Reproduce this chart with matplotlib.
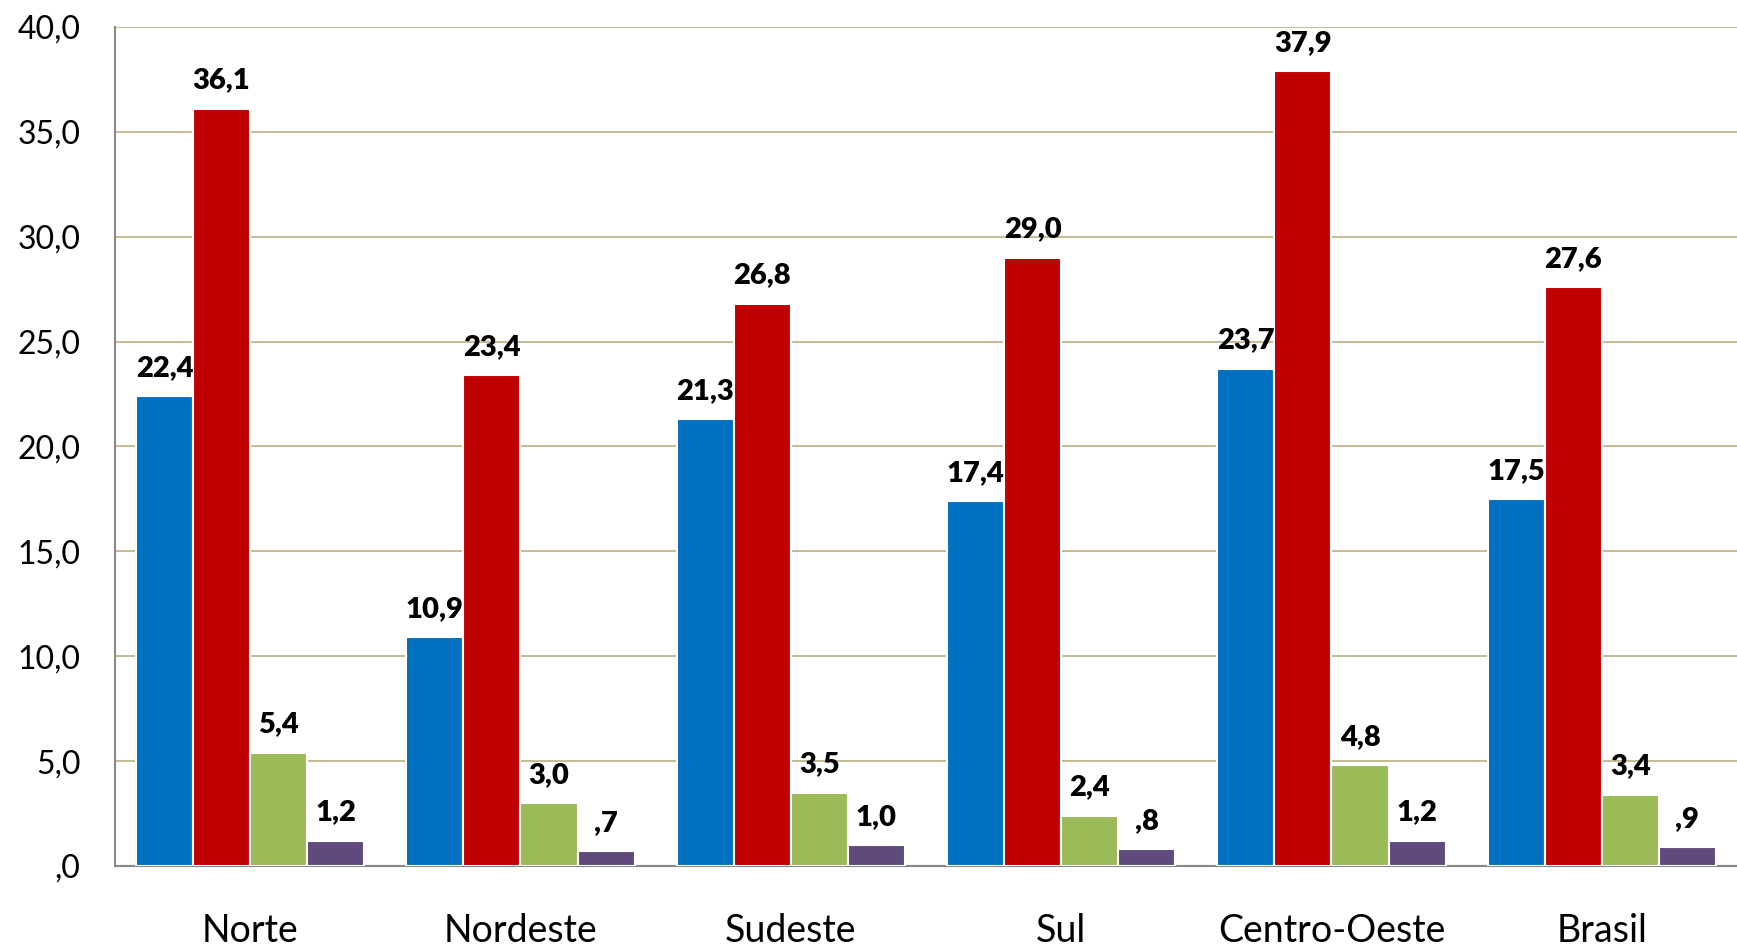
import numpy as np
import matplotlib.pyplot as plt

### Données
regioes = ["Norte", "Nordeste", "Sudeste", "Sul", "Centro-Oeste", "Brasil"]
serie1 = [22.4, 10.9, 21.3, 17.4, 23.7, 17.5]
serie2 = [36.1, 23.4, 26.8, 29.0, 37.9, 27.6]
serie3 = [5.4, 3.0, 3.5, 2.4, 4.8, 3.4]
serie4 = [1.2, 0.7, 1.0, 0.8, 1.2, 0.9]
cores = ["#0070C0", "#C00000", "#9BBB59", "#604A7B"]
yticks = np.arange(0, 45, 5)


def fmt(v):
    s = f"{v:.1f}".replace(".", ",")
    if s.startswith("0,"):
        s = s[1:]
    return s


plt.rcParams['font.family'] = ['Lato', 'DejaVu Sans']

fig = plt.figure(figsize=(17.37, 9.51), dpi=100)
ax = fig.add_axes([0.0662, 0.0894, 0.9338, 0.8822])

x = np.arange(len(regioes))
w = 0.211
series = [serie1, serie2, serie3, serie4]
for i, (vals, c) in enumerate(zip(series, cores)):
    pos = x + (i - 1.5) * w
    bars = ax.bar(pos, vals, width=w, color=c, edgecolor="white", linewidth=1.5, zorder=3)
    for b, v in zip(bars, vals):
        ax.annotate(fmt(v), (b.get_x() + b.get_width() / 2, v), xytext=(0, 11),
                    textcoords="offset points", ha="center", va="bottom",
                    fontsize=21, fontweight="heavy", zorder=4)

ax.set_xlim(-0.5, len(regioes) - 0.5)
ax.set_ylim(0, 40)
ax.set_yticks(yticks)
ax.set_yticklabels([fmt(v) for v in yticks], fontsize=23)
ax.set_xticks(x)
ax.set_xticklabels(regioes, fontsize=27)
ax.tick_params(axis="y", length=0, pad=25)
ax.tick_params(axis="x", length=0, pad=34)
ax.yaxis.grid(True, color="#C4BD97", linewidth=1.5, zorder=0)
ax.set_axisbelow(True)
for s in ["top", "right"]:
    ax.spines[s].set_visible(False)
ax.spines["left"].set_color("#888888")
ax.spines["bottom"].set_color("#888888")
ax.spines["left"].set_linewidth(1.5)
ax.spines["bottom"].set_linewidth(1.5)

plt.savefig("out.png", dpi=100)
